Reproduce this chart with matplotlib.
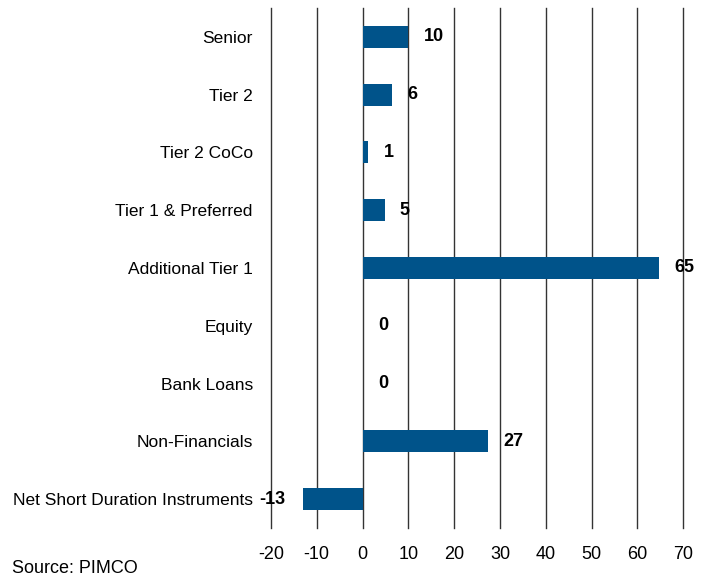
import matplotlib
matplotlib.use("Agg")
import matplotlib.pyplot as plt

plt.rcParams["font.family"] = ["Liberation Sans Narrow", "Liberation Sans", "DejaVu Sans"]

categories = ["Senior", "Tier 2", "Tier 2 CoCo", "Tier 1 & Preferred", "Additional Tier 1",
              "Equity", "Bank Loans", "Non-Financials", "Net Short Duration Instruments"]
values = [10, 6.4, 1.3, 4.8, 64.8, 0, 0, 27.3, -13.1]
labels = ["10", "6", "1", "5", "65", "0", "0", "27", "-13"]
xticks = [-20, -10, 0, 10, 20, 30, 40, 50, 60, 70]

bar_color = "#00538a"

fig = plt.figure(figsize=(7.11, 5.8), dpi=100)
ax = fig.add_axes([0.381, 0.0897, 0.58, 0.8965])

y = list(range(len(categories)))
ax.barh(y, values, height=0.38, color=bar_color, zorder=3)

for yi, v, lab in zip(y, values, labels):
    if v >= 0:
        ax.annotate(lab, (v, yi), xytext=(11, 0), textcoords="offset points",
                    ha="left", va="center", fontsize=13, fontweight="bold")
    else:
        ax.annotate(lab, (v, yi), xytext=(-12, 0), textcoords="offset points",
                    ha="right", va="center", fontsize=13, fontweight="bold")

ax.set_xlim(-20, 70)
ax.set_ylim(8.5, -0.5)
ax.set_xticks(xticks)
ax.set_xticklabels([str(t) for t in xticks], fontsize=13)
ax.set_yticks(y)
ax.set_yticklabels(categories, fontsize=12.5)
ax.tick_params(axis="both", length=0)
ax.tick_params(axis="y", pad=13)
ax.tick_params(axis="x", pad=13)
for s in ax.spines.values():
    s.set_visible(False)
ax.xaxis.grid(True, color="#333333", linewidth=1, zorder=0)
for gl in ax.get_xgridlines():
    gl.set_clip_on(False)

fig.text(0.017, 0.012, "Source: PIMCO", fontsize=13, ha="left", va="baseline")

fig.savefig("out.png", dpi=100)
